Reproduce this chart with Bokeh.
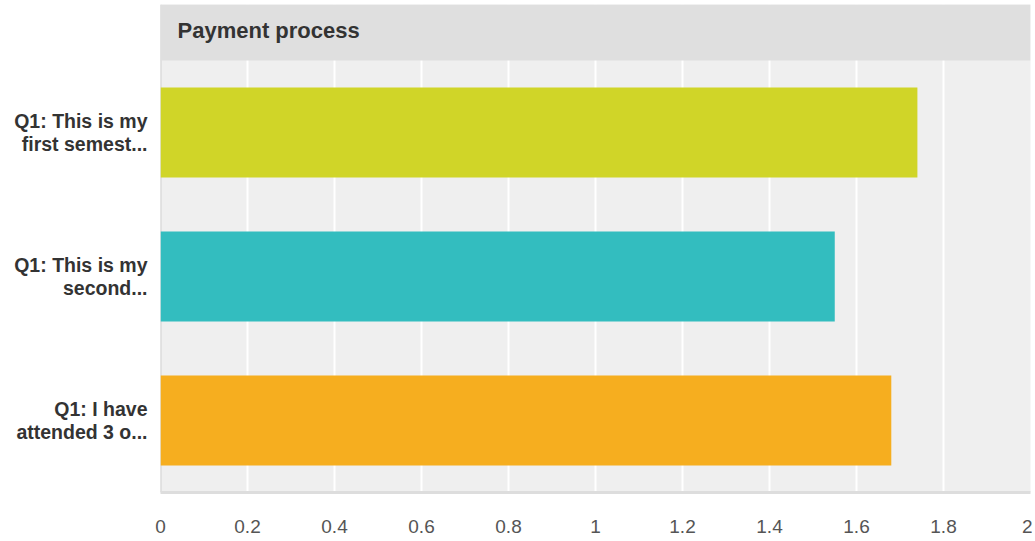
from bokeh.plotting import figure
from bokeh.models import Range1d, FixedTicker, NumeralTickFormatter, BoxAnnotation, Span, Label, ColumnDataSource
from bokeh.embed import file_html
from bokeh.resources import INLINE

# ---- data ----
categories = ["Q1: This is my\nfirst semest...",
              "Q1: This is my\nsecond...",
              "Q1: I have\nattended 3 o..."]
values = [1.74, 1.55, 1.68]
colors = ["#d0d528", "#33bdbf", "#f6ae1f"]
x_ticks = [0, 0.2, 0.4, 0.6, 0.8, 1.0, 1.2, 1.4, 1.6, 1.8, 2.0]
title_text = "Payment process"

n = len(categories)
header_units = 56 / 144  # header band height in category units
ypos = [n - i - 0.5 for i in range(n)]

src = ColumnDataSource(dict(y=ypos, v=values, c=colors))

p = figure(width=1032, height=540, output_backend="svg", toolbar_location=None,
           x_range=Range1d(0, 2.0), y_range=Range1d(0, n + header_units),
           min_border_left=160, min_border_right=2, min_border_top=4, min_border_bottom=48)
p.background_fill_color = "#efefef"
p.border_fill_color = "white"
p.outline_line_color = None

p.hbar(y="y", right="v", left=0, height=0.625, color="c", source=src, line_color=None)

# grid
p.ygrid.grid_line_color = None
p.xgrid.grid_line_color = "white"
p.xgrid.grid_line_width = 2
p.xgrid.ticker = FixedTicker(ticks=x_ticks)

left_line = Span(location=0, dimension="height", line_color="#d2d2d2", line_width=2, level="underlay")
p.add_layout(left_line)

# header band
hdr = BoxAnnotation(bottom=n, fill_color="#dfdfdf", fill_alpha=1.0, line_color=None)
p.add_layout(hdr)
p.add_layout(Label(x=0, y=n + header_units * 0.54, x_offset=17, text=title_text,
                   text_font="Liberation Sans", text_font_style="bold", text_font_size="22px",
                   text_color="#333333", text_baseline="middle"))

# x axis
xa = p.xaxis[0]
xa.ticker = FixedTicker(ticks=x_ticks)
xa.formatter = NumeralTickFormatter(format="0.[0]")
xa.axis_line_color = "#dddddd"
xa.axis_line_width = 3
xa.major_tick_line_color = None
xa.minor_tick_line_color = None
xa.major_label_text_font = "Liberation Sans"
xa.major_label_text_font_size = "19px"
xa.major_label_text_color = "#555555"
xa.major_label_standoff = 21

# y axis
ya = p.yaxis[0]
ya.ticker = FixedTicker(ticks=ypos)
ya.major_label_overrides = {y: c for y, c in zip(ypos, categories)}
ya.axis_line_color = None
ya.major_tick_line_color = None
ya.minor_tick_line_color = None
ya.major_label_text_font = "Liberation Sans"
ya.major_label_text_font_style = "bold"
ya.major_label_text_font_size = "19.5px"
ya.major_label_text_color = "#333333"
ya.major_label_text_line_height = 1.08
ya.major_label_standoff = 7

open("out.html", "w").write(file_html(p, INLINE))
